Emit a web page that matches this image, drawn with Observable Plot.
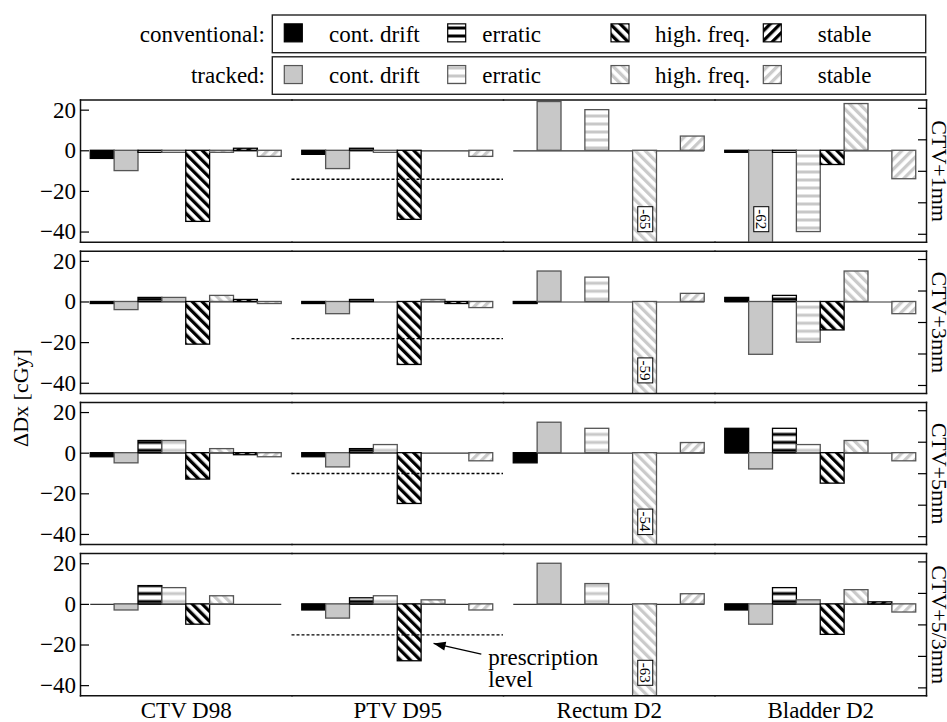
<!DOCTYPE html>
<html><head><meta charset="utf-8">
<script src="https://cdn.jsdelivr.net/npm/d3@7"></script>
<script src="https://cdn.jsdelivr.net/npm/@observablehq/plot@0.6"></script>
<style>
html,body{margin:0;padding:0;background:#fff;overflow:hidden}
#wrap{position:relative;width:947px;height:722px}
#wrap > svg{position:absolute;left:0;top:0}
</style></head><body>
<svg id="defs" width="0" height="0" style="position:absolute;left:0;top:0">
  <defs>
    <pattern id="erC" patternUnits="userSpaceOnUse" width="8" height="8"><rect width="8" height="8" fill="#fff"/><rect y="2.5" width="8" height="3" fill="#000"/></pattern>
    <pattern id="erT" patternUnits="userSpaceOnUse" width="8" height="8"><rect width="8" height="8" fill="#fff"/><rect y="2.5" width="8" height="3" fill="#c8c8c8"/></pattern>
    <pattern id="hfC" patternUnits="userSpaceOnUse" width="7" height="7" patternTransform="rotate(-45)"><rect width="7" height="7" fill="#fff"/><rect width="3.3" height="7" fill="#000"/></pattern>
    <pattern id="hfT" patternUnits="userSpaceOnUse" width="7" height="7" patternTransform="rotate(-45)"><rect width="7" height="7" fill="#fff"/><rect width="3.3" height="7" fill="#cacaca"/></pattern>
    <pattern id="stC" patternUnits="userSpaceOnUse" width="7" height="7" patternTransform="rotate(45)"><rect width="7" height="7" fill="#fff"/><rect width="3.3" height="7" fill="#000"/></pattern>
    <pattern id="stT" patternUnits="userSpaceOnUse" width="7" height="7" patternTransform="rotate(45)"><rect width="7" height="7" fill="#fff"/><rect width="3.3" height="7" fill="#cacaca"/></pattern>
    <marker id="ahead" markerUnits="userSpaceOnUse" markerWidth="14" markerHeight="10" viewBox="-13 -5 14 10" refX="0" refY="0" orient="auto">
      <path d="M0,0L-12,-4.5L-12,4.5Z" fill="#000"/>
    </marker>
  </defs>
</svg>
<div id="wrap"></div>
<script>
// ---------- data ----------
const organs = ["CTV D98", "PTV D95", "Rectum D2", "Bladder D2"];
const margins = ["CTV+1mm", "CTV+3mm", "CTV+5mm", "CTV+5/3mm"];
const motions = ["cont. drift", "erratic", "high. freq.", "stable"];
const modes = ["conventional", "tracked"];
// per organ: [drift conv, drift trk, erratic conv, erratic trk, highfreq conv, highfreq trk, stable conv, stable trk]
const dxCTV1mm = [
  [-4, -10, -1, -1, -35, -1, 1, -3],
  [-2, -9, 1, -1, -34, 0, 0, -3],
  [0, 24, 0, 20, 0, -65, 0, 7],
  [-1, -62, -1, -40, -7, 23, 0, -14]
];
const dxCTV3mm = [
  [-1, -4, 2, 2, -21, 3, 1, -1],
  [-1, -6, 1, 0, -31, 1, -1, -3],
  [-1, 15, 0, 12, 0, -59, 0, 4],
  [2, -26, 3, -20, -14, 15, 0, -6]
];
const dxCTV5mm = [
  [-2, -5, 6, 6, -13, 2, -1, -2],
  [-2, -7, 2, 4, -25, 0, 0, -4],
  [-5, 15, 0, 12, 0, -54, 0, 5],
  [12, -8, 12, 4, -15, 6, 0, -4]
];
const dxCTV53mm = [
  [0, -3, 9, 8, -10, 4, 0, 0],
  [-3, -7, 3, 4, -28, 2, 0, -3],
  [0, 20, 0, 10, 0, -63, 0, 5],
  [-3, -10, 8, 2, -15, 7, 1, -4]
];
const prescriptionPTV = [-14, -18, -10, -15];
const yTicks = [-40, -20, 0, 20];
const rightTicks = [20.9, 5.4, -10.1, -25.6, -41.1];
const yDomain = [-45, 25];
const noteText = "prescription\nlevel";

// ---------- build tables ----------
const keys = motions.flatMap(m => modes.map(md => `${m}|${md}`));
const byMargin = [dxCTV1mm, dxCTV3mm, dxCTV5mm, dxCTV53mm];
const bars = [];
margins.forEach((mg, mi) => organs.forEach((org, oi) => keys.forEach((k, ki) =>
  bars.push({margin: mg, organ: org, key: k, value: byMargin[mi][oi][ki]}))));
const clipped = bars.filter(d => d.value < yDomain[0]);
const presc = margins.map((mg, i) => ({margin: mg, organ: "PTV D95", value: prescriptionPTV[i]}));
const note = [{margin: "CTV+5/3mm", organ: "PTV D95", at: "stable|tracked", to: "high. freq.|tracked", y: -22, y1: -24.5, y2: -19.2, text: noteText}];

const fills = {
  "cont. drift|conventional": "#000", "cont. drift|tracked": "#c8c8c8",
  "erratic|conventional": "url(#erC)", "erratic|tracked": "url(#erT)",
  "high. freq.|conventional": "url(#hfC)", "high. freq.|tracked": "url(#hfT)",
  "stable|conventional": "url(#stC)", "stable|tracked": "url(#stT)"
};
const strokes = k => k.endsWith("conventional") ? "#000" : "#555";
const FONT = "'Liberation Serif', 'Times New Roman', serif";

const frameStyle = {stroke: "#111", strokeWidth: 1.5};
const chart = Plot.plot({
  width: 947, height: 722,
  marginLeft: 80, marginRight: 21, marginTop: 99.5, marginBottom: 26.7,
  style: {fontFamily: FONT, fontSize: "23px", color: "#000", background: "transparent"},
  x: {domain: keys, paddingInner: 0, paddingOuter: 0.43, round: false, axis: null},
  y: {domain: yDomain, axis: null},
  fx: {domain: organs, padding: 0, round: false, axis: null},
  fy: {domain: margins, paddingInner: 0.0595, paddingOuter: 0, round: false, axis: null},
  marks: [
    Plot.ruleY([0], {stroke: "#333", strokeWidth: 1.2, insetLeft: 10.25, insetRight: 10.25}),
    ...keys.map(k => Plot.barY(bars.filter(d => d.key === k), {
      x: "key", y1: 0, y2: "value", fx: "organ", fy: "margin",
      fill: fills[k], stroke: strokes(k), strokeWidth: 1.3, clip: "frame"
    })),
    Plot.ruleY(presc, {fx: "organ", fy: "margin", y: "value", stroke: "#000", strokeWidth: 1.3, strokeDasharray: "3,2"}),
    Plot.text(clipped, {fx: "organ", fy: "margin", x: "key", frameAnchor: "bottom", dy: -23,
      text: d => String(d.value), rotate: 90, textAnchor: "middle", lineAnchor: "middle",
      fontSize: 15, fill: "#000", className: "clipval"}),
    Plot.link(note, {fx: "organ", fy: "margin", x1: "at", x2: "to", y1: "y1", y2: "y2", stroke: "#000", strokeWidth: 1.2, className: "presc-arrow"}),
    Plot.text(note, {fx: "organ", fy: "margin", x: "at", y: "y", text: "text", textAnchor: "start", lineAnchor: "top", dx: 7, fontSize: 23, lineHeight: 0.96}),
    Plot.frame({anchor: "top", ...frameStyle}),
    Plot.frame({anchor: "bottom", ...frameStyle}),
    Plot.frame({anchor: "left", facetAnchor: "left", ...frameStyle}),
    Plot.frame({anchor: "right", facetAnchor: "right", ...frameStyle}),
    Plot.axisY({anchor: "left", ticks: yTicks, tickSize: 0, tickPadding: 4.5, fontSize: 23}),
    Plot.axisY({anchor: "left", ticks: yTicks, tickSize: -9, tickFormat: () => "", strokeWidth: 1.2}),
    Plot.axisY({anchor: "right", ticks: rightTicks, tickSize: -9, tickFormat: () => "", strokeWidth: 1.2}),
    Plot.axisFx({anchor: "bottom", tickSize: 0, tickPadding: 6, fontSize: 23, label: null}),
    Plot.text(margins, {fy: d => d, fx: () => "Bladder D2", text: d => d, frameAnchor: "right",
      rotate: 90, textAnchor: "middle", lineAnchor: "bottom", dx: 5, fontSize: 22})
  ]
});
const wrap = document.getElementById("wrap");
wrap.appendChild(chart);

// boxes behind clipped-value labels
d3.select(chart).selectAll("g.clipval text").each(function() {
  const b = this.getBBox();
  const r = document.createElementNS("http://www.w3.org/2000/svg", "rect");
  r.setAttribute("x", b.x - 2.5); r.setAttribute("y", b.y + 0.5);
  r.setAttribute("width", b.width + 5); r.setAttribute("height", b.height - 1);
  r.setAttribute("fill", "#fff"); r.setAttribute("stroke", "#000"); r.setAttribute("stroke-width", 1);
  const t = this.getAttribute("transform"); if (t) r.setAttribute("transform", t);
  this.parentNode.insertBefore(r, this);
});
d3.select(chart).selectAll("g.presc-arrow path").attr("marker-end", "url(#ahead)");

// ---------- legend and y label overlay ----------
const ov = d3.select(wrap).append("svg").attr("width", 947).attr("height", 722)
  .style("font-family", FONT).style("pointer-events", "none");
const legendRows = [
  {label: "conventional:", mode: "conventional", top: 15, h: 37.7},
  {label: "tracked:", mode: "tracked", top: 56.8, h: 37.5}
];
const swX = [284.3, 447.7, 611, 763.3];
const txX = [329, 482.3, 655, 817.7];
legendRows.forEach(r => {
  const cy = r.top + r.h / 2;
  ov.append("rect").attr("x", 272.3).attr("y", r.top).attr("width", 653.4).attr("height", r.h)
    .attr("fill", "none").attr("stroke", "#222").attr("stroke-width", 1.4);
  ov.append("text").attr("x", 265).attr("y", cy + 7.8).attr("text-anchor", "end")
    .attr("font-size", 23).text(r.label);
  motions.forEach((m, i) => {
    const k = `${m}|${r.mode}`;
    ov.append("rect").attr("x", swX[i]).attr("y", cy - 10).attr("width", 18).attr("height", 18)
      .attr("fill", fills[k]).attr("stroke", strokes(k)).attr("stroke-width", 1.2);
    ov.append("text").attr("x", txX[i]).attr("y", cy + 7.8).attr("font-size", 23).text(m);
  });
});
ov.append("text").attr("transform", "translate(28,398) rotate(-90)").attr("text-anchor", "middle")
  .attr("font-size", 22).text("ΔDx [cGy]");
</script>
</body></html>
